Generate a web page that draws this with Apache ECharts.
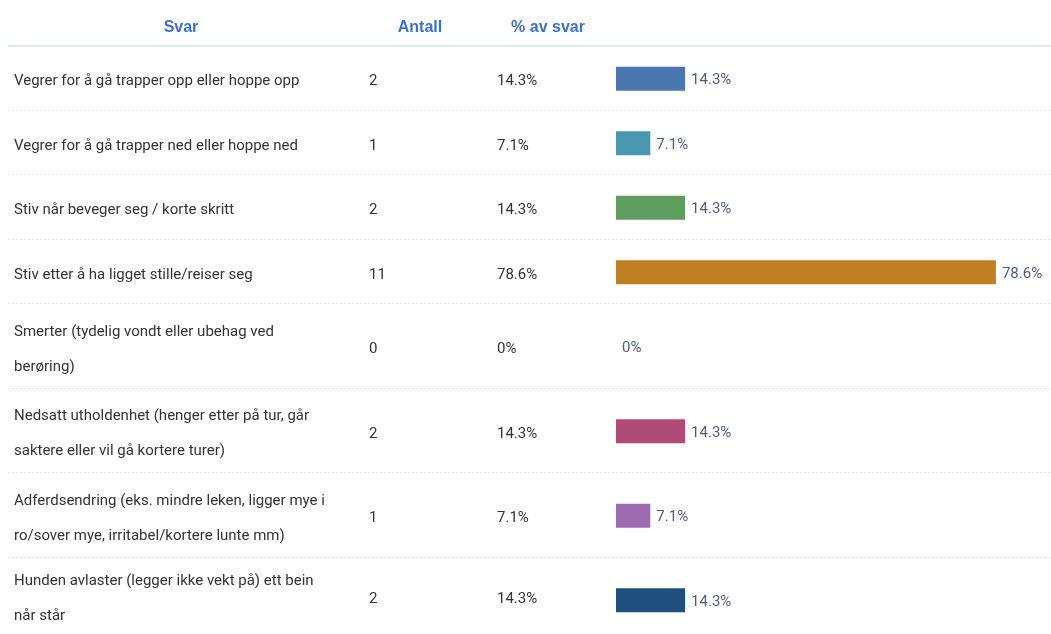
<!DOCTYPE html>
<html>
<head>
<meta charset="utf-8">
<title>Svar</title>
<script src="https://cdn.jsdelivr.net/npm/echarts@6/dist/echarts.min.js"></script>
<style>
  html, body { margin: 0; padding: 0; background: #ffffff; }
  #chart { width: 1051px; height: 634px; }
</style>
</head>
<body>
<div id="chart"></div>
<script>
// Answer texts (line breaks as they wrap in the table)
const answers = [
  'Vegrer for å gå trapper opp eller hoppe opp',
  'Vegrer for å gå trapper ned eller hoppe ned',
  'Stiv når beveger seg / korte skritt',
  'Stiv etter å ha ligget stille/reiser seg',
  'Smerter (tydelig vondt eller ubehag ved\nberøring)',
  'Nedsatt utholdenhet (henger etter på tur, går\nsaktere eller vil gå kortere turer)',
  'Adferdsendring (eks. mindre leken, ligger mye i\nro/sover mye, irritabel/kortere lunte mm)',
  'Hunden avlaster (legger ikke vekt på) ett bein\nnår står'
];
const counts = [2, 1, 2, 11, 0, 2, 1, 2];
const percents = [14.3, 7.1, 14.3, 78.6, 0, 14.3, 7.1, 14.3];
const barColors = ['#4a77af', '#4a97b0', '#5e9d5e', '#bf7f22', '#888888', '#b04a76', '#9f6bb0', '#1e4f7e'];
const headers = ['Svar', 'Antall', '% av svar'];

const chart = echarts.init(document.getElementById('chart'), null, { renderer: 'canvas' });

const W = 1051;
const HEADER_BOTTOM = 46;
const ROW_BASE = 64.5;
const EXTRA_LINE = 20;
const BAND = 40;          // height of each row's plotting band
const BAR_SHIFT = 0.5;    // vertical nudge of the bar band inside a row
const TEXT_SHIFT = 3;     // vertical nudge of the text cells inside a row
const BAR_LEFT = 616;
const TEXT_FONT = 'Roboto, "Noto Sans", sans-serif';
const HEAD_FONT = '"Liberation Sans", Arial, sans-serif';

// row layout from the number of text lines
const rows = [];
let y = HEADER_BOTTOM;
answers.forEach(a => {
  const lines = a.split('\n').length;
  const h = ROW_BASE + EXTRA_LINE * (lines - 1);
  rows.push({ top: y, height: h, center: y + h / 2 });
  y += h;
});

const grid = [], xAxis = [], yAxis = [], series = [];
const hidden = { axisLine: { show: false }, axisTick: { show: false }, splitLine: { show: false } };
const cellLabel = (margin) => ({
  margin: margin,
  align: 'left',
  color: '#333333',
  fontFamily: TEXT_FONT,
  fontSize: 15,
  lineHeight: 35
});

rows.forEach((r, i) => {
  // bar band
  const g = grid.length;
  grid.push({ left: BAR_LEFT, right: 0, top: r.center - BAND / 2 + BAR_SHIFT, height: BAND });
  xAxis.push({ type: 'value', gridIndex: g, min: 0, max: 90, show: false });
  const barAxis = yAxis.length;
  yAxis.push(Object.assign({ type: 'category', gridIndex: g, data: [answers[i]], axisLabel: { show: false } }, hidden));
  series.push({
    type: 'bar',
    xAxisIndex: g,
    yAxisIndex: barAxis,
    data: [percents[i]],
    barWidth: 24,
    itemStyle: { color: barColors[i] },
    label: {
      show: true,
      position: 'right',
      distance: 6,
      offset: [0, 1.5],
      formatter: p => p.value + '%',
      color: '#4d5c7a',
      fontFamily: TEXT_FONT,
      fontSize: 15
    },
    silent: true,
    animation: false
  });

  // text cells: answer, count, share
  const t = grid.length;
  grid.push({ left: BAR_LEFT, right: 0, top: r.center - BAND / 2 + TEXT_SHIFT, height: BAND });
  xAxis.push({ type: 'value', gridIndex: t, min: 0, max: 90, show: false });
  yAxis.push(Object.assign({ type: 'category', gridIndex: t, position: 'left', data: [answers[i]],
    axisLabel: cellLabel(BAR_LEFT - 14) }, hidden));
  yAxis.push(Object.assign({ type: 'category', gridIndex: t, position: 'left', offset: 0, data: [String(counts[i])],
    axisLabel: cellLabel(BAR_LEFT - 369) }, hidden));
  yAxis.push(Object.assign({ type: 'category', gridIndex: t, position: 'left', offset: 0, data: [percents[i] + '%'],
    axisLabel: cellLabel(BAR_LEFT - 497) }, hidden));
});

// header titles and row rules
const graphic = [];
[[181, headers[0]], [420, headers[1]], [548, headers[2]]].forEach(([x, txt]) => {
  graphic.push({
    type: 'text', x: x, y: 28,
    style: { text: txt, fill: '#3a6fd8', font: 'bold 16px ' + HEAD_FONT, textAlign: 'center', textVerticalAlign: 'middle' }
  });
});
graphic.push({
  type: 'line', shape: { x1: 8, y1: HEADER_BOTTOM, x2: W, y2: HEADER_BOTTOM },
  style: { stroke: '#cfe3f6', lineWidth: 1.5 }
});
rows.slice(0, -1).forEach(r => {
  const yy = Math.round(r.top + r.height) - 0.5;
  graphic.push({
    type: 'line', shape: { x1: 8, y1: yy, x2: W, y2: yy },
    style: { stroke: '#d3e5f6', lineWidth: 1, lineDash: [2, 2] }
  });
});

chart.setOption({
  animation: false,
  backgroundColor: '#ffffff',
  grid, xAxis, yAxis, series, graphic
});
</script>
</body>
</html>
